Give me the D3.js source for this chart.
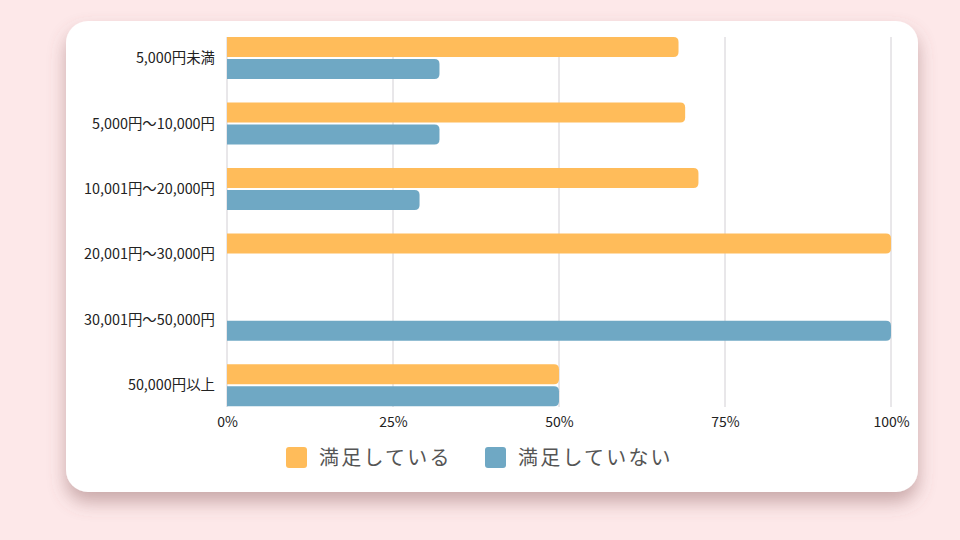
<!DOCTYPE html>
<html><head><meta charset="utf-8">
<script src="https://cdn.jsdelivr.net/npm/d3@7"></script>
<style>
html,body{margin:0;padding:0;background:#fde8e9;}
svg{display:block;font-family:"Noto Sans CJK JP","Noto Sans",sans-serif;}
</style></head>
<body>
<svg id="c" width="960" height="540"></svg>
<script>
const categories = ["5,000円未満","5,000円〜10,000円","10,001円〜20,000円","20,001円〜30,000円","30,001円〜50,000円","50,000円以上"];
const seriesNames = ["満足している","満足していない"];
const satisfied = [68, 69, 71, 100, 0, 50];
const notSatisfied = [32, 32, 29, 0, 100, 50];
const tickValues = [0, 25, 50, 75, 100];
const colors = ["#ffbc5a", "#6fa8c4"];

const svg = d3.select("#c");
const defs = svg.append("defs");
const f = defs.append("filter").attr("id","sh").attr("x","-10%").attr("y","-10%").attr("width","120%").attr("height","135%");
f.append("feDropShadow").attr("dx",0).attr("dy",10).attr("stdDeviation",9).attr("flood-color","#8a5a5a").attr("flood-opacity",0.45);

svg.append("rect").attr("x",66).attr("y",21).attr("width",852).attr("height",471).attr("rx",22)
  .attr("fill","#fff").attr("filter","url(#sh)");

const x = d3.scaleLinear().domain([0,100]).range([227,891]);
const y = d3.scaleBand().domain(categories).range([25.3,418]).paddingInner(0).paddingOuter(0);
const barH = 20, gap = 2;

const g = svg.append("g");
g.selectAll("line.grid").data(tickValues).join("line")
  .attr("x1",d=>x(d)).attr("x2",d=>x(d)).attr("y1",37).attr("y2",407)
  .attr("stroke","#d2cfd4").attr("stroke-width",1);

const xAxis = d3.axisBottom(x).tickValues(tickValues).tickFormat(d=>d+"%").tickSize(0);
const xa = svg.append("g").attr("transform","translate(0,414)").call(xAxis);
xa.select(".domain").remove();
xa.selectAll("text").attr("font-size",14).attr("fill","#222").attr("font-family","'Noto Sans CJK JP','Noto Sans',sans-serif");

const yAxis = d3.axisLeft(y).tickSize(0).tickPadding(0);
const ya = svg.append("g").attr("transform","translate(215,0.5)").call(yAxis);
ya.select(".domain").remove();
ya.selectAll("text").attr("font-size",14.4).attr("fill","#222").attr("font-family","'Noto Sans CJK JP','Noto Sans',sans-serif");

function barPath(x0, x1, yt, h, r){
  const w = x1 - x0;
  if (w <= 0) return "";
  r = Math.min(r, w, h/2);
  return `M${x0},${yt}H${x1-r}Q${x1},${yt} ${x1},${yt+r}V${yt+h-r}Q${x1},${yt+h} ${x1-r},${yt+h}H${x0}Z`;
}
const series = [satisfied, notSatisfied];
series.forEach((vals, si) => {
  g.selectAll("path.s"+si).data(categories.map((c,i)=>({c, v: vals[i]}))).join("path")
    .attr("class","s"+si)
    .attr("fill", colors[si])
    .attr("d", d => {
      const cy = y(d.c) + y.bandwidth()/2;
      const yt = si===0 ? cy - gap/2 - barH : cy + gap/2;
      return barPath(x(0), x(d.v), yt, barH, 5);
    });
});

const legend = svg.append("g");
const lx = [286, 485];
seriesNames.forEach((n,i)=>{
  legend.append("rect").attr("x",lx[i]).attr("y",447).attr("width",21).attr("height",21).attr("rx",3).attr("fill",colors[i]);
  legend.append("text").attr("x",lx[i]+33).attr("y",464.5).attr("font-size",20).attr("fill","#555")
    .attr("letter-spacing",2.2).text(n);
});
</script>
</body></html>
